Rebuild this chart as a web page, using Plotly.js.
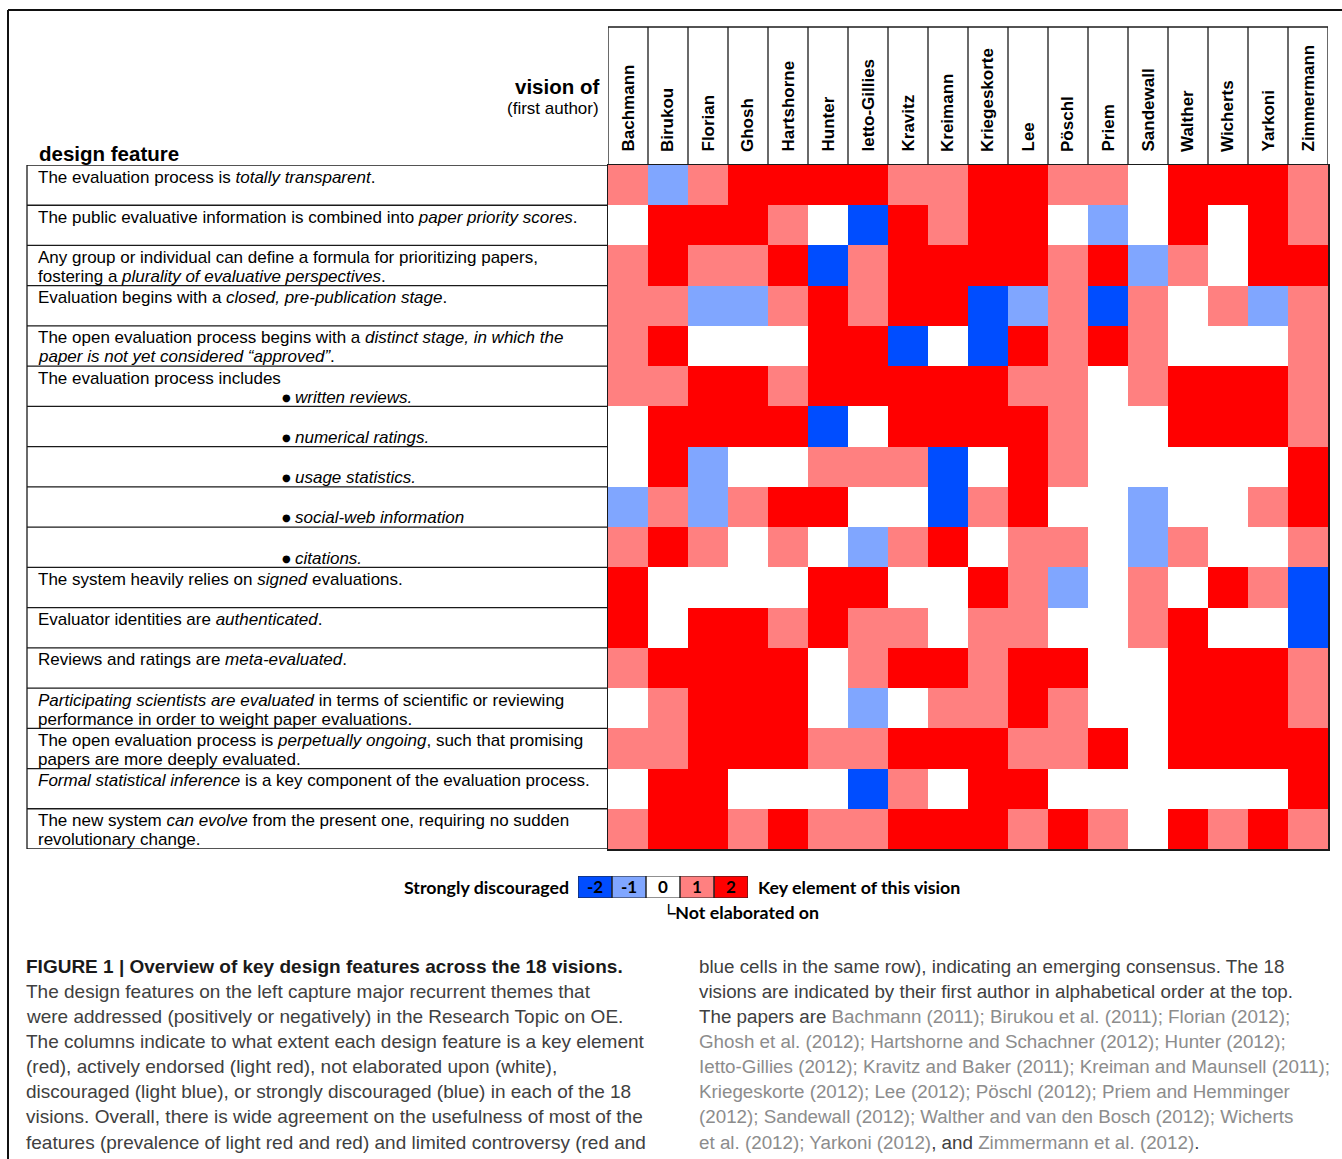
<!DOCTYPE html>
<html>
<head>
<meta charset="utf-8">
<script src="https://cdn.plot.ly/plotly-3.0.1.min.js"></script>
<style>html,body{margin:0;padding:0;background:#fff;}#chart{width:1342px;height:1159px;}</style>
</head>
<body>
<div id="chart"></div>
<script>
// ---------- DATA ----------
const authors = ["Bachmann","Birukou","Florian","Ghosh","Hartshorne","Hunter","Ietto-Gillies","Kravitz","Kreimann","Kriegeskorte","Lee","Pöschl","Priem","Sandewall","Walther","Wicherts","Yarkoni","Zimmermann"];

const features = [
  "The evaluation process is <i>totally transparent</i>.",
  "The public evaluative information is combined into <i>paper priority scores</i>.",
  "Any group or individual can define a formula for prioritizing papers,<br>fostering a <i>plurality of evaluative perspectives</i>.",
  "Evaluation begins with a <i>closed, pre-publication stage</i>.",
  "The open evaluation process begins with a <i>distinct stage, in which the</i><br><i>paper is not yet considered “approved”</i>.",
  "The evaluation process includes",
  "",
  "",
  "",
  "",
  "The system heavily relies on <i>signed</i> evaluations.",
  "Evaluator identities are <i>authenticated</i>.",
  "Reviews and ratings are <i>meta-evaluated</i>.",
  "<i>Participating scientists are evaluated</i> in terms of scientific or reviewing<br>performance in order to weight paper evaluations.",
  "The open evaluation process is <i>perpetually ongoing</i>, such that promising<br>papers are more deeply evaluated.",
  "<i>Formal statistical inference</i> is a key component of the evaluation process.",
  "The new system <i>can evolve</i> from the present one, requiring no sudden<br>revolutionary change."
];

const bulletItems = ["", "", "", "", "", "written reviews.", "numerical ratings.", "usage statistics.", "social-web information", "citations.", "", "", "", "", "", "", ""];

// scores: -2 strongly discouraged ... 2 key element (rows = features, cols = authors)
const scores = [
  [ 1,-1, 1, 2, 2, 2, 2, 1, 1, 2, 2, 1, 1, 0, 2, 2, 2, 1],
  [ 0, 2, 2, 2, 1, 0,-2, 2, 1, 2, 2, 0,-1, 0, 2, 0, 2, 1],
  [ 1, 2, 1, 1, 2,-2, 1, 2, 2, 2, 2, 1, 2,-1, 1, 0, 2, 2],
  [ 1, 1,-1,-1, 1, 2, 1, 2, 2,-2,-1, 1,-2, 1, 0, 1,-1, 1],
  [ 1, 2, 0, 0, 0, 2, 2,-2, 0,-2, 2, 1, 2, 1, 0, 0, 0, 1],
  [ 1, 1, 2, 2, 1, 2, 2, 2, 2, 2, 1, 1, 0, 1, 2, 2, 2, 1],
  [ 0, 2, 2, 2, 2,-2, 0, 2, 2, 2, 2, 1, 0, 0, 2, 2, 2, 1],
  [ 0, 2,-1, 0, 0, 1, 1, 1,-2, 0, 2, 1, 0, 0, 0, 0, 0, 2],
  [-1, 1,-1, 1, 2, 2, 0, 0,-2, 1, 2, 0, 0,-1, 0, 0, 1, 2],
  [ 1, 2, 1, 0, 1, 0,-1, 1, 2, 0, 1, 1, 0,-1, 1, 0, 0, 1],
  [ 2, 0, 0, 0, 0, 2, 2, 0, 0, 2, 1,-1, 0, 1, 0, 2, 1,-2],
  [ 2, 0, 2, 2, 1, 2, 1, 1, 0, 1, 1, 0, 0, 1, 2, 0, 0,-2],
  [ 1, 2, 2, 2, 2, 0, 1, 2, 2, 1, 2, 2, 0, 0, 2, 2, 2, 1],
  [ 0, 1, 2, 2, 2, 0,-1, 0, 1, 1, 2, 1, 0, 0, 2, 2, 2, 1],
  [ 1, 1, 2, 2, 2, 1, 1, 2, 2, 2, 1, 1, 2, 0, 2, 2, 2, 2],
  [ 0, 2, 2, 0, 0, 0,-2, 1, 0, 2, 2, 0, 0, 0, 0, 0, 0, 2],
  [ 1, 2, 2, 1, 2, 1, 1, 2, 2, 2, 1, 2, 1, 0, 2, 1, 2, 1]
];

const legendValues = [-2, -1, 0, 1, 2];
const legendLabels = ["-2", "-1", "0", "1", "2"];
const legendLeft = "Strongly discouraged";
const legendRight = "Key element of this vision";
const legendNote = "└Not elaborated on";

const headerTop = "vision of";
const headerSub = "(first author)";
const headerLeft = "design feature";

const captionLeft = [
  "<b>FIGURE 1 | Overview of key design features across the 18 visions.</b>",
  "The design features on the left capture major recurrent themes that",
  "were addressed (positively or negatively) in the Research Topic on OE.",
  "The columns indicate to what extent each design feature is a key element",
  "(red), actively endorsed (light red), not elaborated upon (white),",
  "discouraged (light blue), or strongly discouraged (blue) in each of the 18",
  "visions. Overall, there is wide agreement on the usefulness of most of the",
  "features (prevalence of light red and red) and limited controversy (red and"
];
const G = '<span style="color:#8c8c8c">';
const E = '</span>';
const captionRight = [
  "blue cells in the same row), indicating an emerging consensus. The 18",
  "visions are indicated by their first author in alphabetical order at the top.",
  "The papers are " + G + "Bachmann (2011); Birukou et al. (2011); Florian (2012);" + E,
  G + "Ghosh et al. (2012); Hartshorne and Schachner (2012); Hunter (2012);" + E,
  G + "Ietto-Gillies (2012); Kravitz and Baker (2011); Kreiman and Maunsell (2011);" + E,
  G + "Kriegeskorte (2012); Lee (2012); Pöschl (2012); Priem and Hemminger" + E,
  G + "(2012); Sandewall (2012); Walther and van den Bosch (2012); Wicherts" + E,
  G + "et al. (2012); Yarkoni (2012)" + E + ", and " + G + "Zimmermann et al. (2012)" + E + "."
];

// ---------- STYLE ----------
const W = 1342, H = 1159;
const px = x => x / W;
const py = y => 1 - y / H;
const C_BLUE = "#004dff", C_LBLUE = "#80a6ff", C_WHITE = "#ffffff", C_LRED = "#ff8080", C_RED = "#ff0000";
const colorscale = [[0,C_BLUE],[0.2,C_BLUE],[0.2,C_LBLUE],[0.4,C_LBLUE],[0.4,C_WHITE],[0.6,C_WHITE],[0.6,C_LRED],[0.8,C_LRED],[0.8,C_RED],[1,C_RED]];
const ARIAL = "Liberation Sans, Arial, sans-serif";
const CAL = "Lato, Noto Sans, sans-serif";
const LINE = "#1a1a1a";
const LABEL_SIZE = 17;

const nRows = features.length, nCols = authors.length;

const traces = [
  {
    type: "heatmap",
    z: scores,
    x: authors.map((_, i) => i),
    y: features.map((_, i) => i),
    zmin: -2, zmax: 2,
    colorscale: colorscale,
    showscale: false,
    hoverinfo: "skip",
    xaxis: "x", yaxis: "y"
  },
  {
    type: "heatmap",
    z: [legendValues],
    x: legendValues.map((_, i) => i),
    y: [0],
    text: [legendLabels.map(s => "<b>" + s + "</b>")],
    zmin: -2, zmax: 2,
    colorscale: colorscale,
    showscale: false,
    texttemplate: "%{text}",
    textfont: {family: CAL, size: 17, color: "#000"},
    hoverinfo: "skip",
    xaxis: "x2", yaxis: "y2"
  }
];

const shapes = [];
const annotations = [];

// outer frame
shapes.push({type:"line", xref:"paper", yref:"paper", x0:px(8), x1:1, y0:py(10), y1:py(10), line:{color:"#111", width:2}});
shapes.push({type:"line", xref:"paper", yref:"paper", x0:px(8), x1:px(8), y0:py(10), y1:0, line:{color:"#111", width:2}});

// table row lines on the left
for (let k = 0; k <= nRows; k++) {
  shapes.push({type:"line", xref:"paper", yref:"y", x0:px(27), x1:px(608), y0:k-0.5, y1:k-0.5, line:{color:LINE, width:1.3}});
}
shapes.push({type:"line", xref:"paper", yref:"y", x0:px(27), x1:px(27), y0:-0.5, y1:nRows-0.5, line:{color:LINE, width:1.3}});

// column header cell lines
for (let c = 0; c <= nCols; c++) {
  shapes.push({type:"line", xref:"x", yref:"paper", x0:c-0.5, x1:c-0.5, y0:py(165), y1:py(27), line:{color:LINE, width:1.3}});
}
shapes.push({type:"line", xref:"x", yref:"paper", x0:-0.5, x1:nCols-0.5, y0:py(27), y1:py(27), line:{color:LINE, width:1.3}});

// legend cell borders
legendValues.forEach((v, i) => {
  shapes.push({type:"rect", xref:"x2", yref:"y2", x0:i-0.5, x1:i+0.5, y0:-0.5, y1:0.5, line:{color:"#222", width:1}});
});

// column names
authors.forEach((a, c) => {
  annotations.push({xref:"x", yref:"paper", x:c, y:py(154), text:"<b>"+a+"</b>", textangle:-90,
    xanchor:"center", yanchor:"bottom", showarrow:false, font:{family:ARIAL, size:17, color:"#000"}});
});

// row labels: each line placed separately (first line near row top, second line below)
const lineOffsets = [12, 31];
features.forEach((f, r) => {
  if (!f) return;
  f.split("<br>").forEach((ln, j) => {
    annotations.push({xref:"paper", yref:"y", x:px(36), y:r-0.5, yshift:-lineOffsets[j], text:ln, align:"left",
      xanchor:"left", yanchor:"middle", showarrow:false, font:{family:ARIAL, size:LABEL_SIZE, color:"#000"}});
  });
});
bulletItems.forEach((b, r) => {
  if (!b) return;
  annotations.push({xref:"paper", yref:"paper", x:px(280), y:0, yref:"y", y:r-0.5, yshift:-lineOffsets[1], text:"●", align:"left",
    xanchor:"left", yanchor:"middle", showarrow:false, font:{family:"DejaVu Sans, sans-serif", size:10, color:"#000"}});
  annotations.push({xref:"paper", yref:"y", x:px(293), y:r-0.5, yshift:-lineOffsets[1], text:"<i>"+b+"</i>", align:"left",
    xanchor:"left", yanchor:"middle", showarrow:false, font:{family:ARIAL, size:LABEL_SIZE, color:"#000"}});
});

// headers
annotations.push({xref:"paper", yref:"paper", x:px(601), y:py(86), text:"<b>"+headerTop+"</b>", xanchor:"right", yanchor:"middle", showarrow:false, font:{family:ARIAL, size:20.5, color:"#000"}});
annotations.push({xref:"paper", yref:"paper", x:px(601), y:py(108), text:headerSub, xanchor:"right", yanchor:"middle", showarrow:false, font:{family:ARIAL, size:17, color:"#000"}});
annotations.push({xref:"paper", yref:"paper", x:px(37), y:py(153), text:"<b>"+headerLeft+"</b>", xanchor:"left", yanchor:"middle", showarrow:false, font:{family:ARIAL, size:20.5, color:"#000"}});

// legend texts
annotations.push({xref:"paper", yref:"paper", x:px(571), y:py(887), text:"<b>"+legendLeft+"</b>", xanchor:"right", yanchor:"middle", showarrow:false, font:{family:CAL, size:17.8, color:"#000"}});
annotations.push({xref:"paper", yref:"paper", x:px(756), y:py(887), text:"<b>"+legendRight+"</b>", xanchor:"left", yanchor:"middle", showarrow:false, font:{family:CAL, size:17.8, color:"#000"}});
annotations.push({xref:"paper", yref:"paper", x:px(660), y:py(912), text:"<b>"+legendNote+"</b>", xanchor:"left", yanchor:"middle", showarrow:false, font:{family:CAL, size:17.8, color:"#000"}});

// caption
const capY = [966, 991, 1016, 1041, 1066, 1091, 1116, 1142];
captionLeft.forEach((t, i) => {
  annotations.push({xref:"paper", yref:"paper", x:px(24), y:py(capY[i]), text:t, xanchor:"left", yanchor:"middle", showarrow:false,
    font:{family:ARIAL, size:19, color: i === 0 ? "#1a1a1a" : "#404040"}});
});
captionRight.forEach((t, i) => {
  annotations.push({xref:"paper", yref:"paper", x:px(697), y:py(capY[i]), text:t, xanchor:"left", yanchor:"middle", showarrow:false,
    font:{family:ARIAL, size:18.8, color:"#404040"}});
});

const hiddenAxis = {showgrid:false, zeroline:false, showticklabels:false, ticks:"", fixedrange:true};

const layout = {
  width: W, height: H,
  margin: {l:0, r:0, t:0, b:0, pad:0},
  paper_bgcolor: "#fff", plot_bgcolor: "#fff",
  showlegend: false,
  xaxis: Object.assign({}, hiddenAxis, {domain:[px(608), px(1328)], range:[-0.5, nCols-0.5], showline:true, mirror:true, linecolor:LINE, linewidth:1.5}),
  yaxis: Object.assign({}, hiddenAxis, {domain:[py(849), py(165)], range:[nRows-0.5, -0.5], showline:true, mirror:true, linecolor:LINE, linewidth:1.5}),
  xaxis2: Object.assign({}, hiddenAxis, {domain:[px(578), px(748)], range:[-0.5, legendValues.length-0.5], anchor:"y2"}),
  yaxis2: Object.assign({}, hiddenAxis, {domain:[py(898), py(876)], range:[-0.5, 0.5], anchor:"x2"}),
  shapes: shapes,
  annotations: annotations
};

Plotly.newPlot("chart", traces, layout, {staticPlot:true, displayModeBar:false});
</script>
</body>
</html>
